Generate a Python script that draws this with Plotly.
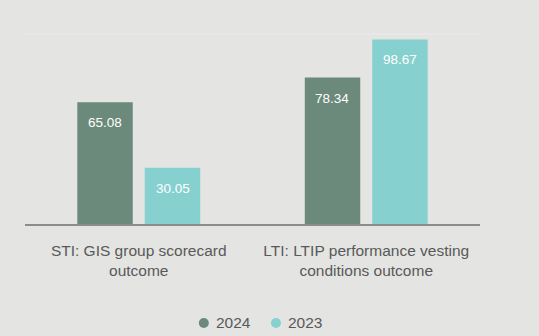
import plotly.graph_objects as go

categories = ["STI: GIS group scorecard<br>outcome", "LTI: LTIP performance vesting<br>conditions outcome"]
series_names = ["2024", "2023"]
values_2024 = [65.08, 78.34]
values_2023 = [30.05, 98.67]
colors = ["#6b8a7c", "#86d1d0"]

fig = go.Figure()
for name, vals, col in zip(series_names, [values_2024, values_2023], colors):
    fig.add_trace(go.Bar(x=categories, y=vals, name=name, marker_color=col,
                         marker_line_width=0, showlegend=False,
                         textposition="none", hoverinfo="skip"))

# value labels inside bars near the top
offsets = [-34, 34]
for vals, off in zip([values_2024, values_2023], offsets):
    for c, v in zip(categories, vals):
        fig.add_annotation(x=c, y=v, text=f"{v:.2f}", showarrow=False,
                           xshift=off, yanchor="top", yshift=-11,
                           font=dict(family="Liberation Sans, Arial", size=13.5, color="white"))

# top gridline
fig.add_shape(type="line", xref="paper", yref="paper", x0=0, x1=1, y0=1, y1=1,
              line=dict(color="#ebebe9", width=1))

# manual legend (circle markers + labels)
legend_x = [0.393, 0.5516]
legend_y = -0.521
for name, col, lx in zip(series_names, colors, legend_x):
    fig.add_shape(type="circle", xref="paper", yref="paper",
                  xsizemode="pixel", ysizemode="pixel",
                  xanchor=lx, yanchor=legend_y, x0=-5, x1=5, y0=-5, y1=5,
                  fillcolor=col, line=dict(width=0))
    fig.add_annotation(xref="paper", yref="paper", x=lx, y=legend_y, xshift=10,
                       text=name, showarrow=False, xanchor="left", yanchor="middle",
                       font=dict(family="Liberation Sans, Arial", size=15.5, color="#595959"))

fig.update_layout(
    width=539, height=336,
    margin=dict(l=25, r=59, t=34, b=112, autoexpand=False),
    paper_bgcolor="#e4e4e2", plot_bgcolor="#e4e4e2",
    barmode="group", bargap=0.407, bargroupgap=0.178,
    font=dict(family="Liberation Sans, Arial", size=15, color="#595959"),
    showlegend=False,
    xaxis=dict(showline=True, linecolor="#8c8c8c", linewidth=2, ticks="outside",
               ticklen=11, tickcolor="rgba(0,0,0,0)", showgrid=False, automargin=False,
               tickfont=dict(size=15.5, color="#595959")),
    yaxis=dict(range=[0, 101.6], showgrid=False, showticklabels=False, zeroline=False,
               showline=False, automargin=False),
)
fig.write_html("out.html")
